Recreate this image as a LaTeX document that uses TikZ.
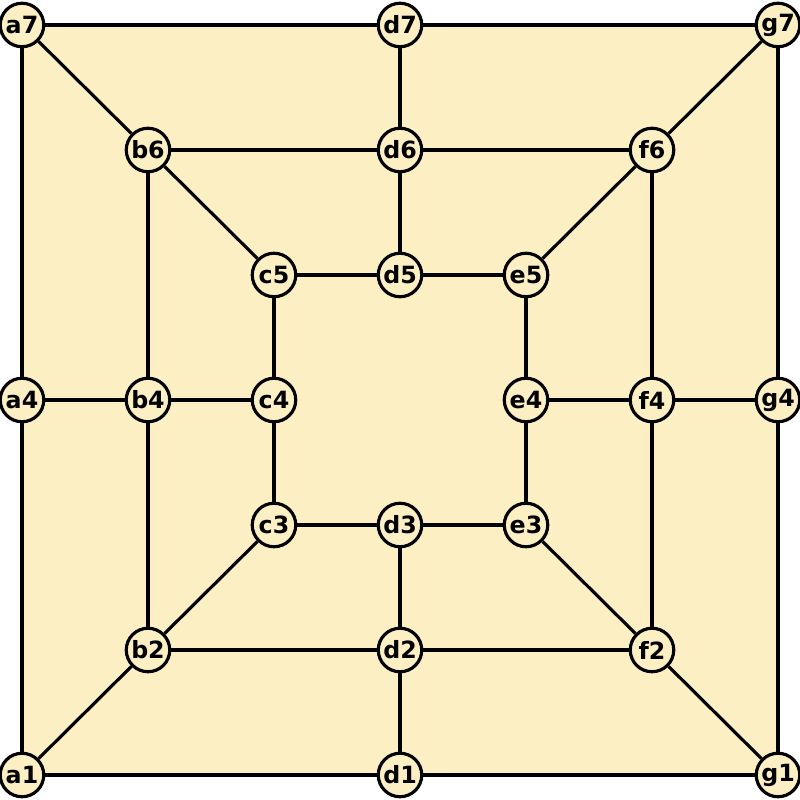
\documentclass[tikz,border=0pt]{standalone}
\usepackage{fontspec}
\setmainfont{DejaVu Sans}
\usepackage{tikz}
\definecolor{boardyellow}{HTML}{FDEFC4}
\tikzset{
    spot/.style={circle, draw, line width=1.8pt, fill=boardyellow, minimum size=0.87cm, inner sep=0pt, font=\fontsize{13.5}{15}\bfseries},
    edge/.style={line width=1.8pt}
}

\begin{document}
\begin{tikzpicture}[x=2.52cm,y=2.5cm]
    \useasboundingbox (-0.1746,-0.2) rectangle (6.1746,6.2);
    % Board background
    \fill[boardyellow] (0,0) rectangle (6,6);

    % Points of the board
    \foreach \n/\x/\y in {a1/0/0, a4/0/3, a7/0/6, b2/1/1, b4/1/3, b6/1/5,
        c3/2/2, c4/2/3, c5/2/4, d1/3/0, d2/3/1, d3/3/2, d5/3/4, d6/3/5, d7/3/6,
        e3/4/2, e4/4/3, e5/4/4, f2/5/1, f4/5/3, f6/5/5, g1/6/0, g4/6/3, g7/6/6}
        \node[spot] (\n) at (\x,\y) {\n};

    % Lines between points
    \foreach \p/\q in {a1/a4, a4/a7, a7/d7, d7/g7, g7/g4, g4/g1, g1/d1, d1/a1,
        b2/b4, b4/b6, b6/d6, d6/f6, f6/f4, f4/f2, f2/d2, d2/b2,
        c3/c4, c4/c5, c5/d5, d5/e5, e5/e4, e4/e3, e3/d3, d3/c3,
        a7/b6, b6/c5, g7/f6, f6/e5, a1/b2, b2/c3, g1/f2, f2/e3,
        d7/d6, d6/d5, d1/d2, d2/d3, a4/b4, b4/c4, e4/f4, f4/g4}
        \draw[edge] (\p) -- (\q);
\end{tikzpicture}
\end{document}
